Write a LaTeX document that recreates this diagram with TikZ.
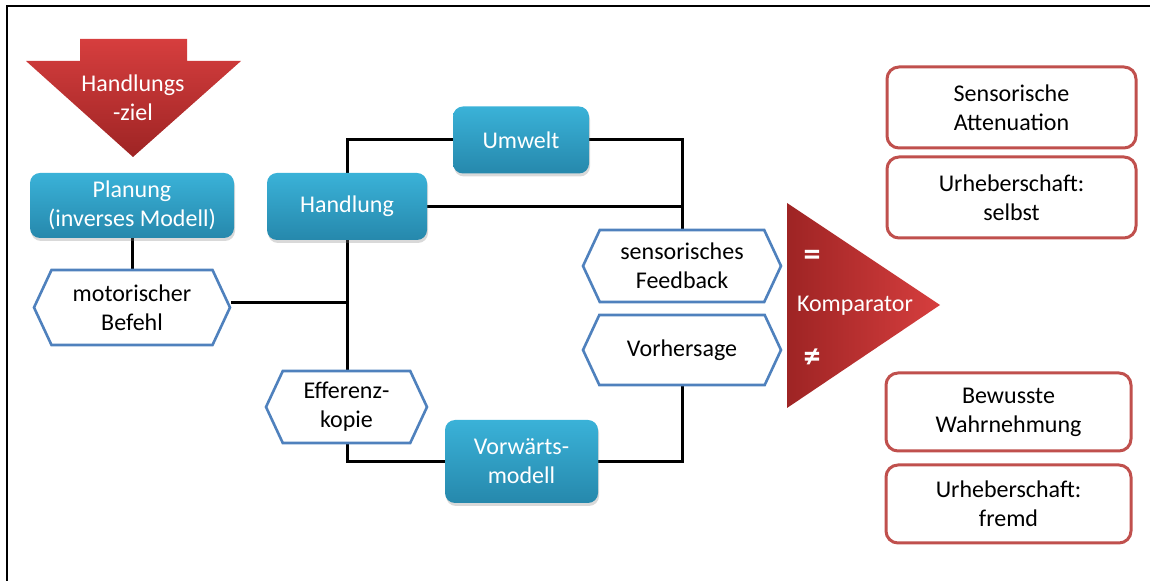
\documentclass[tikz,border=0pt]{standalone}
\usepackage{fontspec}
\setmainfont{Carlito}
\usetikzlibrary{shapes.symbols,shadows,backgrounds}
\definecolor{bluetop}{RGB}{58,178,216}
\definecolor{bluebot}{RGB}{38,136,172}
\definecolor{hexblue}{RGB}{79,129,189}
\definecolor{boxred}{RGB}{192,80,77}
\definecolor{redtop}{RGB}{214,62,62}
\definecolor{redbot}{RGB}{158,36,36}
\begin{document}
\begin{tikzpicture}[x=0.5pt,y=-0.5pt,font=\fontsize{12}{14.5}\selectfont,
  bluebox/.style={rounded corners=5pt, top color=bluetop, bottom color=bluebot, draw=none, text=white, align=center, inner sep=2pt,
    drop shadow={shadow xshift=0.5pt,shadow yshift=-1.5pt,opacity=0.3}},
  hexbox/.style={signal, signal to=west and east, signal pointer angle=130, draw=hexblue, line width=1.3pt, fill=white, align=center, inner sep=1pt},
  redbox/.style={rounded corners=6pt, draw=boxred, line width=1.5pt, fill=white, align=center},
  conn/.style={line width=1.5pt, black},
  whitetxt/.style={text=white, align=center}]
\useasboundingbox (0,0) rectangle (1150,581);
\draw[line width=1.2pt] (7,581) -- (7,6) -- (1150,6);

% goal arrow
\path[top color=redtop, bottom color=redbot] (80,39) -- (187,39) -- (187,61) -- (241,61) -- (133,157) -- (26,61) -- (80,61) -- cycle;
\node[whitetxt] (goal) at (133,98) {Handlungs\\-ziel};

% blue boxes
\node[bluebox, minimum width=102pt, minimum height=32.5pt] (plan) at (132,205.5) {Planung\\(inverses Modell)};
\node[bluebox, minimum width=80pt, minimum height=33.5pt] (act) at (347,206.5) {Handlung};
\node[bluebox, minimum width=68pt, minimum height=33.5pt] (env) at (521,140) {Umwelt};
\node[bluebox, minimum width=76.5pt, minimum height=41.5pt] (fwd) at (521.5,461.5) {Vorwärts-\\modell};

% hexagons
\node[hexbox, minimum width=98pt, minimum height=37.5pt] (motor) at (132,307.5) {motorischer\\Befehl};
\node[hexbox, minimum width=80.5pt, minimum height=36pt] (eff) at (346.5,407) {Efferenz-\\kopie};
\node[hexbox, minimum width=99pt, minimum height=36pt] (fb) at (682,266) {sensorisches\\Feedback};
\node[hexbox, minimum width=99pt, minimum height=35pt] (pred) at (682,350) {Vorhersage};

% comparator
\path[left color=redbot, right color=redtop] (787,203) -- (940,305) -- (787,408) -- cycle;
\node[whitetxt] (comp) at (855,306) {Komparator};
\node[whitetxt, font=\bfseries\fontsize{17}{17}\selectfont] (eq) at (812,258) {=};
\node[whitetxt, font=\bfseries\fontsize{17}{17}\selectfont] (neq) at (812,358) {≠};

% red boxes
\node[redbox, minimum width=124.5pt, minimum height=40.5pt] (att) at (1011.5,107.5) {Sensorische\\Attenuation};
\node[redbox, minimum width=124.5pt, minimum height=40.5pt] (self) at (1011.5,197.5) {Urheberschaft:\\selbst};
\node[redbox, minimum width=122.5pt, minimum height=39pt] (aware) at (1008.5,412) {Bewusste\\Wahrnehmung};
\node[redbox, minimum width=122.5pt, minimum height=39pt] (other) at (1008.5,504) {Urheberschaft:\\fremd};

% connectors
\begin{scope}[on background layer]
\draw[conn] (act.north) |- (env.west);
\draw[conn] (env.east) -| (fb.north);
\draw[conn] (act.east) -- (act.east -| fb.north);
\draw[conn] (plan.south) -- (motor.north);
\draw[conn] ([yshift=2.5pt]motor.east) -- ([yshift=2.5pt]motor.east -| act.south);
\draw[conn] (act.south) |- (fwd.west);
\draw[conn] (fwd.east) -| (pred.south);
\end{scope}
\end{tikzpicture}
\end{document}
